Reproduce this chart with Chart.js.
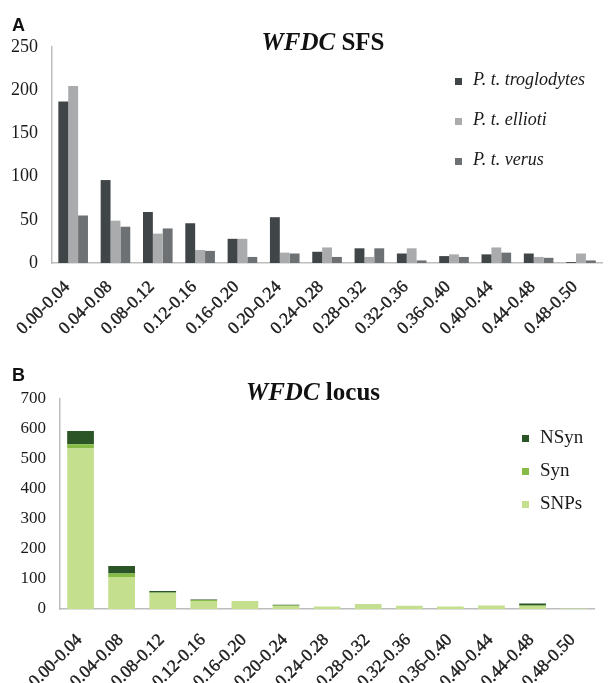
<!DOCTYPE html>
<html>
<head>
<meta charset="utf-8">
<script src="https://cdn.jsdelivr.net/npm/chart.js@4.4.1/dist/chart.umd.min.js"></script>
<style>
  body { margin: 0; background: #fff; }
  #wrap { position: relative; width: 610px; height: 683px; overflow: hidden; }
  canvas { position: absolute; left: 0; }
  .panel { position: absolute; font: bold 18px "Liberation Sans", Arial, sans-serif; color: #111; }
  .title { position: absolute; font: bold 25px "Liberation Serif", "Times New Roman", serif; color: #111; transform: translate(-50%, -50%); white-space: nowrap; }
  .leg { position: absolute; font-family: "Liberation Serif", "Times New Roman", serif; color: #1a1a1a; white-space: nowrap; }
  .leg span.box { display: inline-block; width: 7px; height: 7px; margin-right: 11px; vertical-align: middle; }
</style>
</head>
<body>
<div id="wrap">
  <canvas id="sfsChart" width="610" height="340" style="top:0"></canvas>
  <canvas id="locusChart" width="610" height="343" style="top:340px"></canvas>
  <div class="panel" style="left:12px;top:15px">A</div>
  <div class="panel" style="left:12px;top:365px">B</div>
  <div class="title" style="left:323px;top:42px"><i>WFDC</i> SFS</div>
  <div class="title" style="left:313px;top:392px"><i>WFDC</i> locus</div>
  <div id="legA"></div>
  <div id="legB"></div>
</div>
<script>
// bins of derived allele frequency
const bins = ['0.00-0.04', '0.04-0.08', '0.08-0.12', '0.12-0.16', '0.16-0.20', '0.20-0.24', '0.24-0.28',
              '0.28-0.32', '0.32-0.36', '0.36-0.40', '0.40-0.44', '0.44-0.48', '0.48-0.50'];

// --- A: SFS per subspecies ---
const troglodytes = [187, 96, 59, 46, 28, 53, 13, 17, 11, 8, 10, 11, 1];
const ellioti     = [205, 49, 34, 15, 28, 12, 18, 7, 17, 10, 18, 7, 11];
const verus       = [55, 42, 40, 14, 7, 11, 7, 17, 3, 7, 12, 6, 3];
const sfsTicks = [0, 50, 100, 150, 200, 250];

// --- B: locus (stacked) ---
const snps = [535, 107, 52, 25, 27, 10, 8, 15, 11, 8, 12, 10, 2];
const syn  = [14, 11, 3, 5, 0, 2, 0, 2, 0, 0, 0, 2, 0];
const nsyn = [44, 25, 5, 2, 0, 2, 0, 0, 0, 0, 0, 6, 0];
const locusTicks = [0, 100, 200, 300, 400, 500, 600, 700];

const serif = '"Liberation Serif", "Times New Roman", serif';
const axisColor = '#bdbdbd';

function xAxis(h, pad, shift) {
    return {
        grid: { display: false, drawTicks: false },
        border: { display: true, color: axisColor, width: 1.5 },
        ticks: { minRotation: 45, maxRotation: 45, autoSkip: false, padding: pad, labelOffset: shift,
                 color: '#1a1a1a', textStrokeColor: '#1a1a1a', textStrokeWidth: 0.4,
                 font: { family: serif, size: 17.5 } },
        afterFit: s => { s.height = h; }
    };
}
function yAxis(w, ticks, size) {
    return {
        min: ticks[0], max: ticks[ticks.length - 1],
        grid: { display: false, drawTicks: false },
        border: { display: true, color: axisColor, width: 1.5 },
        ticks: { stepSize: ticks[1] - ticks[0], padding: 14, color: '#1a1a1a', font: { family: serif, size: size } },
        afterFit: s => { s.width = w; }
    };
}

const sfsChart = new Chart(document.getElementById('sfsChart'), {
    type: 'bar',
    data: {
        labels: bins,
        datasets: [
            { label: 'P. t. troglodytes', data: troglodytes, backgroundColor: '#404548' },
            { label: 'P. t. ellioti', data: ellioti, backgroundColor: '#a9abac' },
            { label: 'P. t. verus', data: verus, backgroundColor: '#6d7173' }
        ]
    },
    options: {
        responsive: false, animation: false,
        datasets: { bar: { categoryPercentage: 0.7, barPercentage: 1 } },
        layout: { padding: { top: 47, right: 5, left: 0, bottom: 0 } },
        plugins: { legend: { display: false }, tooltip: { enabled: false } },
        scales: { x: xAxis(77, 14, -6), y: yAxis(52, sfsTicks, 18) }
    }
});

const locusChart = new Chart(document.getElementById('locusChart'), {
    type: 'bar',
    data: {
        labels: bins,
        datasets: [
            { label: 'SNPs', data: snps, backgroundColor: '#c4df8d' },
            { label: 'Syn', data: syn, backgroundColor: '#86bb45' },
            { label: 'NSyn', data: nsyn, backgroundColor: '#2b5526' }
        ]
    },
    options: {
        responsive: false, animation: false,
        datasets: { bar: { categoryPercentage: 1, barPercentage: 0.65 } },
        layout: { padding: { top: 59, right: 13, left: 0, bottom: 0 } },
        plugins: { legend: { display: false }, tooltip: { enabled: false } },
        scales: {
            x: Object.assign(xAxis(74, 21, -1), { stacked: true }),
            y: Object.assign(yAxis(60, locusTicks, 17), { stacked: true })
        }
    }
});

// legends as text, built from the datasets
function buildLegend(el, chart, items, x, y0, gap, size, italic) {
    items.forEach((idx, i) => {
        const ds = chart.data.datasets[idx];
        const d = document.createElement('div');
        d.className = 'leg';
        d.style.left = x + 'px';
        d.style.top = (y0 + i * gap - size * 0.6) + 'px';
        d.style.fontSize = size + 'px';
        d.style.fontStyle = italic ? 'italic' : 'normal';
        d.innerHTML = '<span class="box" style="background:' + ds.backgroundColor + '"></span>' + ds.label;
        el.appendChild(d);
    });
}
buildLegend(document.getElementById('legA'), sfsChart, [0, 1, 2], 455, 80, 40, 18, true);
buildLegend(document.getElementById('legB'), locusChart, [2, 1, 0], 522, 437, 33, 19, false);
</script>
</body>
</html>
